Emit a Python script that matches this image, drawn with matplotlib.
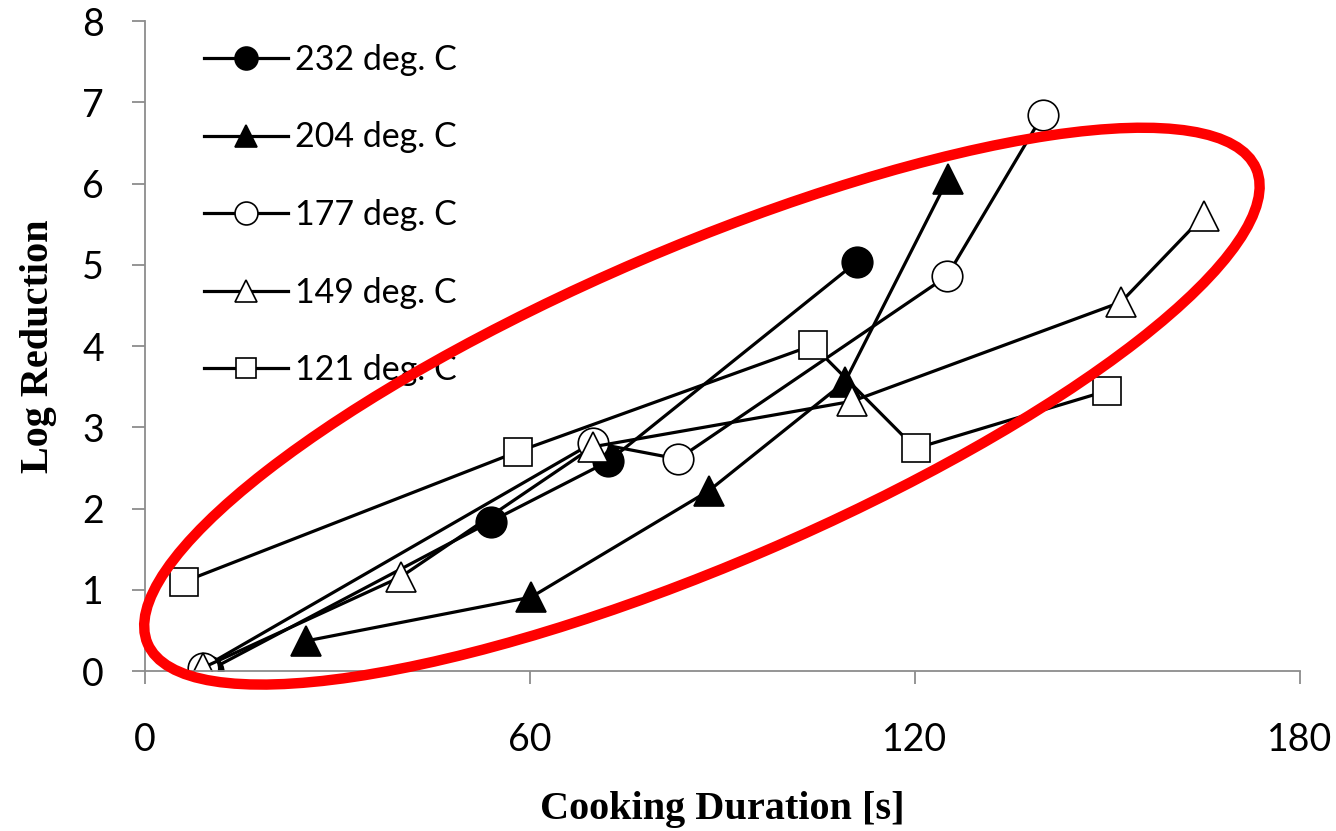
import matplotlib
matplotlib.use('Agg')
import matplotlib.pyplot as plt
from matplotlib.patches import Ellipse
from matplotlib.transforms import ScaledTranslation

# cooking duration [s] and log reduction for each oven temperature
t232 = [9.8, 53.9, 72.2, 111.0]
r232 = [0.0, 1.84, 2.58, 5.04]
t204 = [25.1, 60.2, 87.9, 109.1, 125.1]
r204 = [0.37, 0.91, 2.22, 3.56, 6.05]
t177 = [9.0, 69.8, 83.1, 125.0, 139.9]
r177 = [0.04, 2.81, 2.61, 4.86, 6.84]
t149 = [9.0, 39.9, 69.8, 110.2, 152.1, 165.0]
r149 = [0.04, 1.16, 2.76, 3.32, 4.54, 5.60]
t121 = [6.1, 58.1, 104.1, 120.1, 150.0]
r121 = [1.10, 2.70, 4.01, 2.74, 3.45]
labels = ['232 deg. C', '204 deg. C', '177 deg. C', '149 deg. C', '121 deg. C']

tick_font = 'Lato'

fig = plt.figure(figsize=(13.36, 8.31), dpi=100)
ax = fig.add_axes([0.1085, 0.1925, 0.8645, 0.7822])

lw = 2.3
ms = 22
mew = 1.2
ax.plot(t232, r232, '-o', color='black', lw=lw, ms=ms, mfc='black', mew=mew, label=labels[0])
ax.plot(t204, r204, '-^', color='black', lw=lw, ms=ms, mfc='black', mew=mew, label=labels[1])
ax.plot(t177, r177, '-o', color='black', lw=lw, ms=ms, mfc='white', mew=mew, label=labels[2])
ax.plot(t149, r149, '-^', color='black', lw=lw, ms=ms, mfc='white', mew=mew, label=labels[3])
ax.plot(t121, r121, '-s', color='black', lw=lw, ms=ms - 2, mfc='white', mew=mew, label=labels[4])

ax.set_xlim(0, 180)
ax.set_ylim(0, 8)
ax.set_xticks([0, 60, 120, 180])
ax.set_yticks(range(0, 9))

for s in ['top', 'right']:
    ax.spines[s].set_visible(False)
for s in ['left', 'bottom']:
    ax.spines[s].set_color('#8c8c8c')
    ax.spines[s].set_linewidth(1.3)
ax.tick_params(axis='both', direction='out', length=9.5, width=1.3, color='#8c8c8c',
               labelsize=27)
ax.tick_params(axis='x', pad=27)
ax.tick_params(axis='y', pad=20)
for lab in ax.get_xticklabels() + ax.get_yticklabels():
    lab.set_fontfamily(tick_font)

ax.set_xlabel('Cooking Duration [s]', fontsize=29, fontweight='bold',
              family='Liberation Serif', labelpad=24)
ax.set_ylabel('Log Reduction', fontsize=29, fontweight='bold',
              family='Liberation Serif', labelpad=18)

leg = ax.legend(loc='upper left', bbox_to_anchor=(0.025, 1.012), frameon=False,
                prop={'family': tick_font, 'size': 24.5}, handlelength=2.45,
                handletextpad=0.22, labelspacing=1.34, markerscale=0.75)

# red highlight ellipse drawn in pixel units, centred in data space
ell = Ellipse((0, 0), 12.06, 3.16, angle=23.2, fill=False, edgecolor='red', lw=7.5,
              transform=fig.dpi_scale_trans + ScaledTranslation(86.8, 3.26, ax.transData),
              clip_on=False, zorder=10)
ax.add_patch(ell)

fig.savefig('out.png', dpi=100)
